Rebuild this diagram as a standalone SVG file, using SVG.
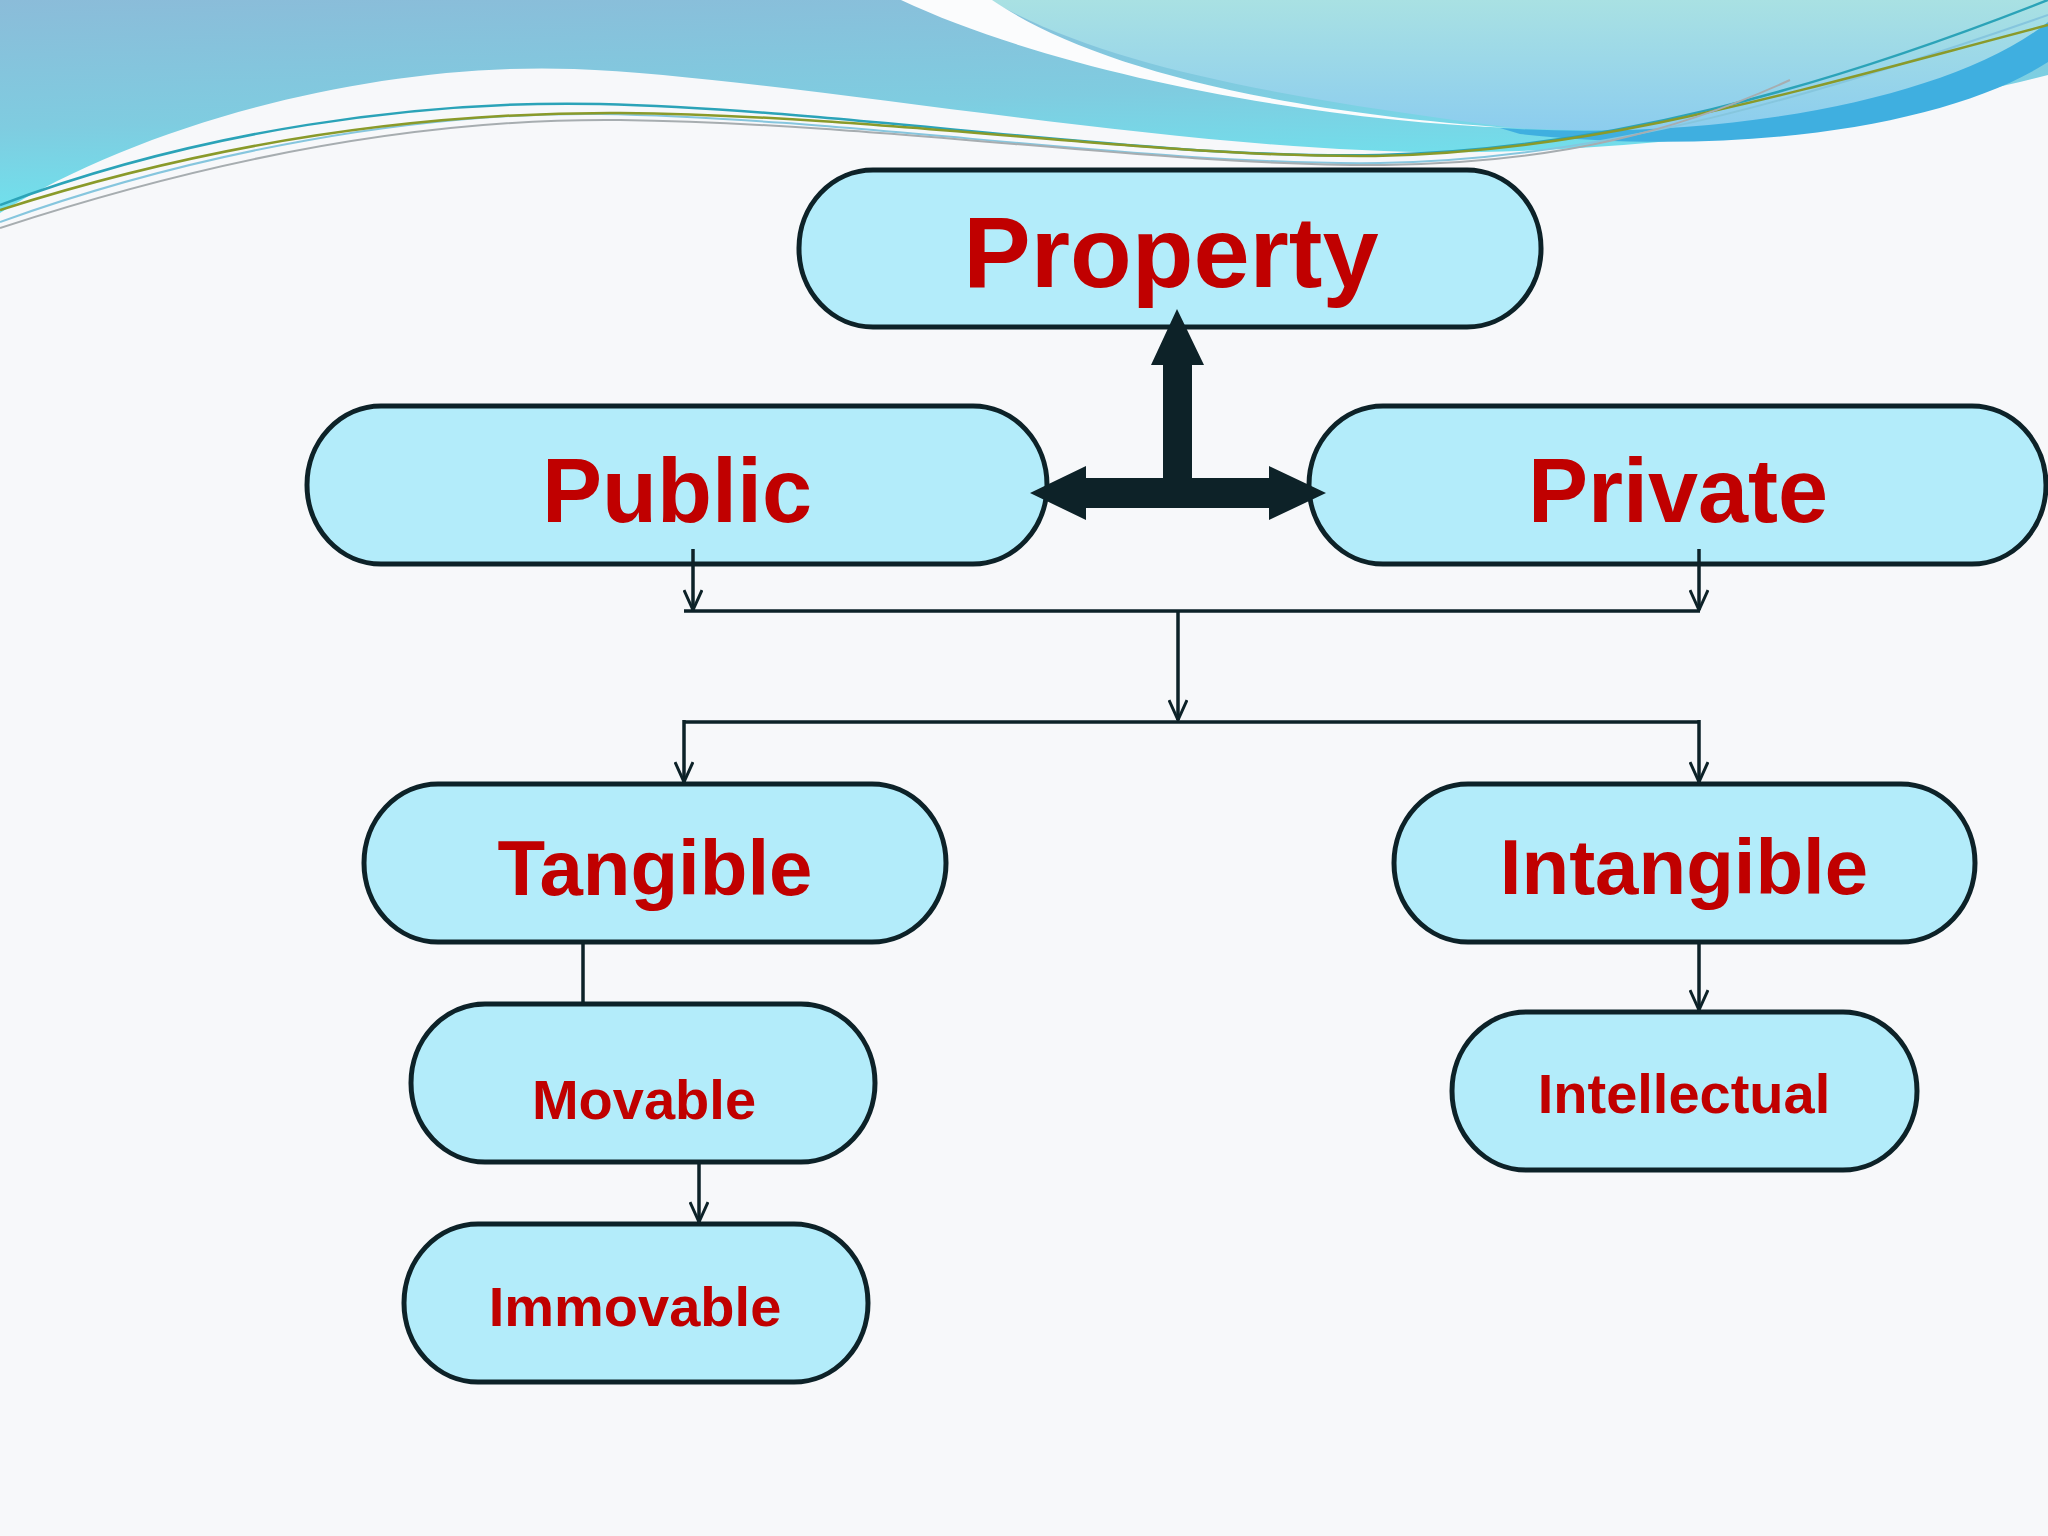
<svg xmlns="http://www.w3.org/2000/svg" width="2048" height="1536" viewBox="0 0 2048 1536">
<defs>
<linearGradient id="gLeft" x1="0" y1="0" x2="0.3" y2="1">
<stop offset="0" stop-color="#8BBCD9"/>
<stop offset="0.55" stop-color="#7FCCE0"/>
<stop offset="1" stop-color="#6CE6F0"/>
</linearGradient>
<linearGradient id="gRight" x1="0" y1="0" x2="0" y2="1">
<stop offset="0" stop-color="#A9E1E3"/>
<stop offset="1" stop-color="#8CCDEE"/>
</linearGradient>
<marker id="arr" viewBox="0 0 24 20" refX="22" refY="10" markerWidth="24" markerHeight="20" markerUnits="userSpaceOnUse" orient="auto">
<path d="M2,1 L22,10 L2,19" fill="none" stroke="#0D2228" stroke-width="3"/>
</marker>
<style>
.box{fill:#B3ECFA;stroke:#0D2228;stroke-width:5}
.t{font-family:"Liberation Sans",Arial,sans-serif;font-weight:bold;fill:#C00000;text-anchor:middle}
.c{fill:none;stroke:#0D2228;stroke-width:3.5}
.ca{fill:none;stroke:#0D2228;stroke-width:3.5;marker-end:url(#arr)}
</style>
</defs>
<rect width="2048" height="1536" fill="#F7F8FA"/>
<g id="header">
<path d="M0,0 L2048,0 L2048,75 C1900,112 1700,148 1480,152 C1200,158 800,78 574,69 C380,62 150,120 0,213 Z" fill="url(#gLeft)"/>
<path d="M990,0 L2048,0 L2048,38 C1950,105 1720,140 1514,128 C1300,100 1110,70 990,0 Z" fill="url(#gRight)"/>
<path d="M1500,128 C1720,142 1950,100 2048,22 L2048,62 C1950,125 1740,158 1520,134 Z" fill="#3FAFE0"/>
<path d="M901,0 L992,0 C1080,60 1250,110 1514,128 C1300,120 1050,70 901,0 Z" fill="#FBFCFD"/>
<path d="M0,205 C200,130 420,100 600,104 C850,110 1150,160 1380,155 C1600,150 1820,90 2048,0" fill="none" stroke="#2BA3B8" stroke-width="2.5"/>
<path d="M0,222 C200,150 420,112 600,114 C850,118 1150,166 1380,163 C1600,160 1820,95 2048,15" fill="none" stroke="#86C6DE" stroke-width="2"/>
<path d="M0,210 C220,140 430,112 620,113 C900,116 1150,158 1375,156 C1600,152 1800,90 2048,25" fill="none" stroke="#8A9A2A" stroke-width="2.5"/>
<path d="M0,228 C220,156 430,118 620,120 C900,124 1150,166 1384,165 C1560,163 1680,130 1790,80" fill="none" stroke="#A7ADB0" stroke-width="2"/>
</g>
<g id="node-property"><rect class="box" x="799" y="170" width="742" height="157" rx="74" ry="78"/><text class="t" x="1171" y="287" font-size="101">Property</text></g>
<g id="node-public"><rect class="box" x="307" y="406" width="740" height="158" rx="74" ry="79"/><text class="t" x="677" y="522" font-size="90">Public</text></g>
<g id="node-private"><rect class="box" x="1309" y="406" width="737" height="158" rx="74" ry="79"/><text class="t" x="1678" y="522" font-size="90">Private</text></g>
<g id="node-tangible"><rect class="box" x="364" y="784" width="582" height="158" rx="74" ry="79"/><text class="t" x="655" y="895" font-size="78">Tangible</text></g>
<g id="node-intangible"><rect class="box" x="1394" y="784" width="581" height="158" rx="74" ry="79"/><text class="t" x="1684" y="894" font-size="78">Intangible</text></g>
<g id="node-movable"><rect class="box" x="411" y="1004" width="464" height="158" rx="74" ry="79"/><text class="t" x="644" y="1119" font-size="56">Movable</text></g>
<g id="node-immovable"><rect class="box" x="404" y="1224" width="464" height="158" rx="74" ry="79"/><text class="t" x="635" y="1326" font-size="56">Immovable</text></g>
<g id="node-intellectual"><rect class="box" x="1452" y="1012" width="465" height="158" rx="74" ry="79"/><text class="t" x="1684" y="1113" font-size="56">Intellectual</text></g>
<g id="connectors">
<polygon points="1177,309 1204,365 1192,365 1192,478 1269,478 1269,466 1326,493 1269,520 1269,508 1086,508 1086,520 1030,493 1086,466 1086,478 1163,478 1163,365 1151,365" fill="#0D2228"/>
<path class="ca" d="M693,549 V610"/>
<path class="ca" d="M1699,549 V610"/>
<path class="c" d="M684,611 H1700"/>
<path class="ca" d="M1178,611 V720"/>
<path class="c" d="M684,722 H1700"/>
<path class="ca" d="M684,720 V782"/>
<path class="ca" d="M1699,720 V782"/>
<path class="c" d="M583,942 V1004"/>
<path class="ca" d="M699,1162 V1222"/>
<path class="ca" d="M1699,942 V1010"/>
</g>
</svg>
